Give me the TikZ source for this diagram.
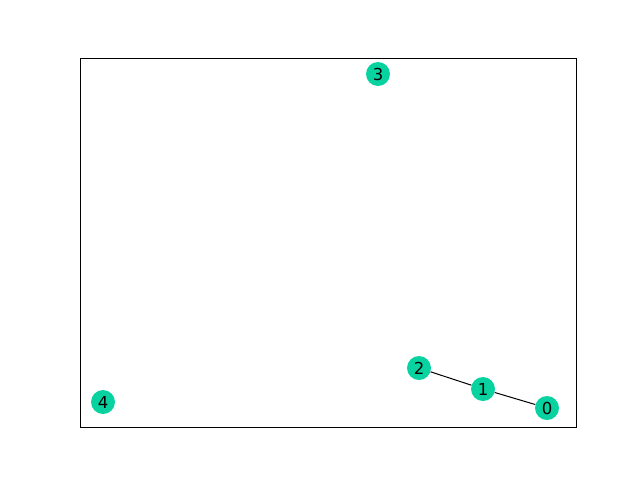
\documentclass[tikz,border=0pt]{standalone}
\usepackage{fontspec}
\setmainfont{DejaVu Sans}
\usepackage{tikz}
\definecolor{nodeteal}{RGB}{8,211,160}

\begin{document}
\begin{tikzpicture}[
  x=1pt, y=-1pt,
  font=\fontsize{16.5}{18}\selectfont,
  vertex/.style={circle, fill=nodeteal, inner sep=0pt, minimum size=24pt},
  edge/.style={line width=1pt, black}
]
\useasboundingbox (0,0) rectangle (640,480);
\draw[line width=0.8pt] (80,58) rectangle (576,427);

\node[vertex] (n0) at (547,408) {0};
\node[vertex] (n1) at (483,389) {1};
\node[vertex] (n2) at (419,368) {2};
\node[vertex] (n3) at (378,74) {3};
\node[vertex] (n4) at (103,402) {4};

\draw[edge] (n2) -- (n1);
\draw[edge] (n1) -- (n0);
\end{tikzpicture}
\end{document}
